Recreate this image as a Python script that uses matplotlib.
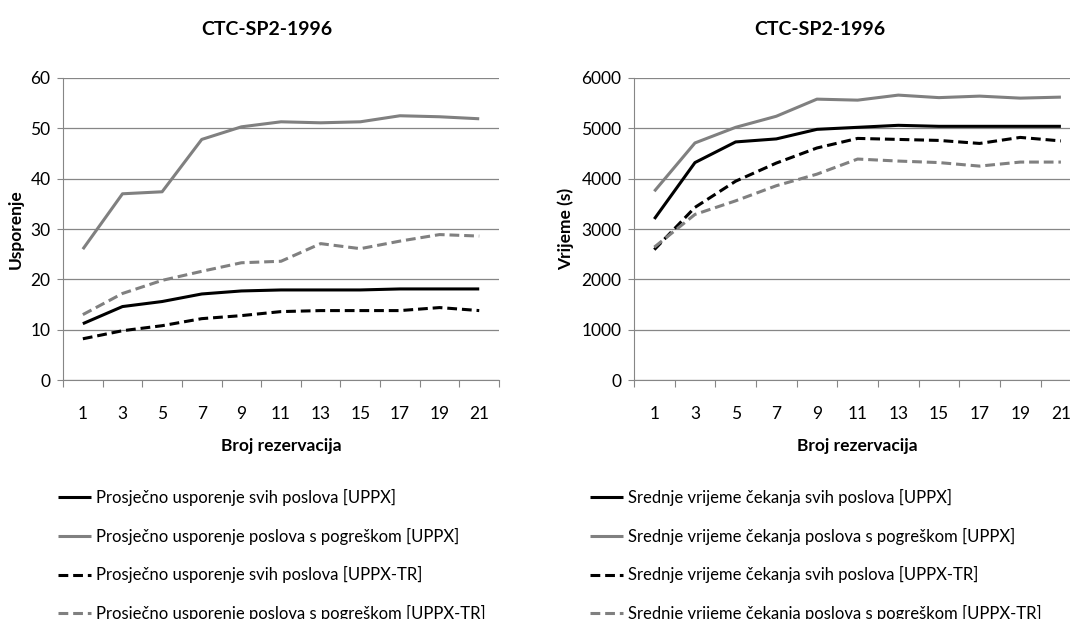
import matplotlib
matplotlib.use("Agg")
import matplotlib.pyplot as plt

plt.rcParams['font.family'] = ['Lato', 'DejaVu Sans']

rezervacije = ['1', '3', '5', '7', '9', '11', '13', '15', '17', '19', '21']

# usporenje (lijevi graf)
usp_svi_uppx = [11.2, 14.6, 15.6, 17.1, 17.7, 17.9, 17.9, 17.9, 18.1, 18.1, 18.1]
usp_greska_uppx = [26.0, 37.0, 37.4, 47.8, 50.3, 51.3, 51.1, 51.3, 52.5, 52.3, 51.9]
usp_svi_tr = [8.2, 9.8, 10.8, 12.2, 12.8, 13.6, 13.8, 13.8, 13.8, 14.4, 13.8]
usp_greska_tr = [13.0, 17.2, 19.8, 21.6, 23.3, 23.6, 27.1, 26.1, 27.6, 28.9, 28.6]

# vrijeme cekanja (desni graf)
vr_svi_uppx = [3200, 4320, 4730, 4790, 4980, 5020, 5060, 5040, 5040, 5040, 5040]
vr_greska_uppx = [3750, 4710, 5020, 5240, 5580, 5560, 5660, 5610, 5640, 5600, 5620]
vr_svi_tr = [2590, 3430, 3950, 4310, 4610, 4800, 4780, 4760, 4700, 4820, 4750]
vr_greska_tr = [2640, 3290, 3560, 3860, 4090, 4390, 4350, 4320, 4250, 4330, 4330]

naslov = 'CTC-SP2-1996'
leg_lijevo = ['Prosječno usporenje svih poslova [UPPX]',
              'Prosječno usporenje poslova s pogreškom [UPPX]',
              'Prosječno usporenje svih poslova [UPPX-TR]',
              'Prosječno usporenje poslova s pogreškom [UPPX-TR]']
leg_desno = ['Srednje vrijeme čekanja svih poslova [UPPX]',
             'Srednje vrijeme čekanja poslova s pogreškom [UPPX]',
             'Srednje vrijeme čekanja svih poslova [UPPX-TR]',
             'Srednje vrijeme čekanja poslova s pogreškom [UPPX-TR]']

GRAY = '#808080'
AXC = '#868686'
fig = plt.figure(figsize=(10.7, 6.19), dpi=100)


def crtaj(ax, serije, labels, ymax, ystep, ylabel, title_x):
    x = list(range(len(rezervacije)))
    stilovi = [('black', '-'), (GRAY, '-'), ('black', '--'), (GRAY, '--')]
    for y, (c, ls), lab in zip(serije, stilovi, labels):
        ln, = ax.plot(x, y, color=c, lw=2.2, label=lab, solid_capstyle='butt')
        if ls == '--':
            ln.set_dashes([3.2, 1.6])
    ax.set_xlim(-0.5, len(rezervacije) - 0.5)
    ax.set_ylim(0, ymax)
    ax.set_yticks(range(0, ymax + 1, ystep))
    ax.set_xticks([i - 0.5 for i in range(len(rezervacije) + 1)])
    ax.set_xticklabels([])
    ax.set_xticks(x, minor=True)
    ax.set_xticklabels(rezervacije, minor=True)
    ax.tick_params(axis='x', which='minor', length=0, pad=19, labelsize=12.5)
    ax.tick_params(axis='x', which='major', length=5, color=AXC)
    ax.tick_params(axis='y', length=4, color=AXC, labelsize=12.5, pad=5)
    ax.grid(axis='y', color=AXC, lw=0.9)
    ax.set_axisbelow(True)
    for s in ['top', 'right']:
        ax.spines[s].set_visible(False)
    for s in ['left', 'bottom']:
        ax.spines[s].set_color(AXC)
    ax.set_title(naslov, fontsize=14, fontweight='bold', pad=31, x=title_x)
    ax.set_xlabel('Broj rezervacija', fontsize=12.5, fontweight='bold', labelpad=11)
    ax.set_ylabel(ylabel, fontsize=12.5, fontweight='bold', labelpad=5)


ax1 = fig.add_axes([0.0589, 0.386, 0.4075, 0.488])
crtaj(ax1, [usp_svi_uppx, usp_greska_uppx, usp_svi_tr, usp_greska_tr],
      leg_lijevo, 60, 10, 'Usporenje', 0.468)
ax2 = fig.add_axes([0.5925, 0.386, 0.4180, 0.488])
crtaj(ax2, [vr_svi_uppx, vr_greska_uppx, vr_svi_tr, vr_greska_tr],
      leg_desno, 6000, 1000, 'Vrijeme (s)', 0.415)

for ax, x0 in [(ax1, 58 / 1070), (ax2, 590 / 1070)]:
    ax.legend(loc='upper left', bbox_to_anchor=(x0, 1 - 489 / 619),
              bbox_transform=fig.transFigure, frameon=False, fontsize=12,
              borderpad=0, borderaxespad=0, handlelength=2.0,
              handletextpad=0.25, labelspacing=1.3)

fig.savefig('out.png', dpi=100)
